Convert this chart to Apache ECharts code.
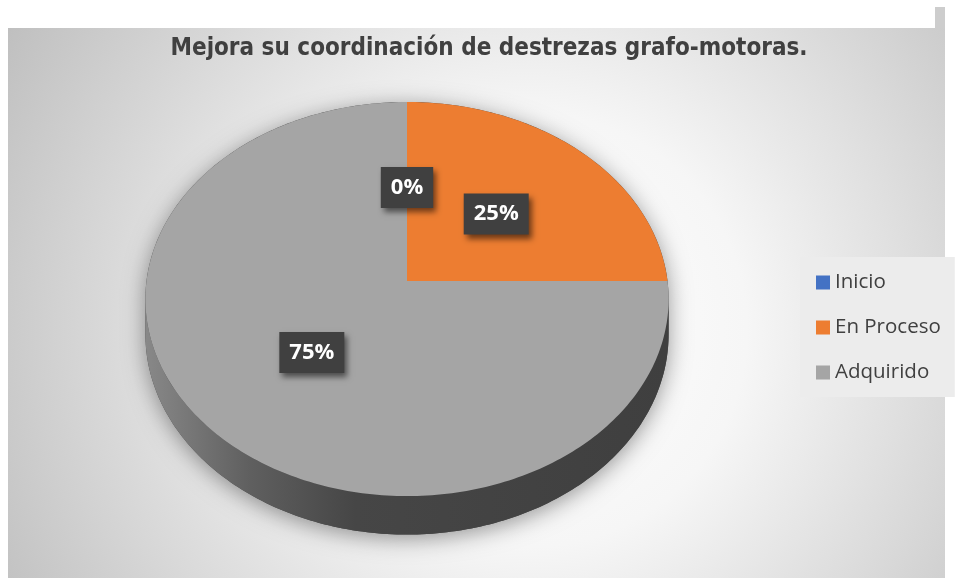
<!DOCTYPE html>
<html>
<head>
<meta charset="utf-8">
<script src="https://cdn.jsdelivr.net/npm/echarts@6/dist/echarts.min.js"></script>
<style>
  html, body { margin: 0; padding: 0; background: #fff; }
  #chart { width: 955px; height: 578px; }
</style>
</head>
<body>
<div id="chart"></div>
<script>
// datos del gráfico
var categories = ['Inicio', 'En Proceso', 'Adquirido'];
var values = [0, 25, 75];
var colors = ['#4472C4', '#ED7D31', '#A5A5A5'];
var titleText = 'Mejora su coordinación de destrezas grafo-motoras.';

var total = values.reduce(function (a, b) { return a + b; }, 0);

// pie 3D con perspectiva (centro, radio, profundidad)
var CX = 407, R = 260.5, A = 169.7, B = 281, C = -0.0914, D = 35;

function proj(theta, r, h) {
  var u = r * Math.sin(theta);
  var v = -r * Math.cos(theta);
  var w = 1 / (1 + C * v);
  return [CX + R * u * w, (A * v + B) * w + h * D * w];
}

function arc(a, b, r, h) {
  var pts = [];
  var n = Math.max(2, Math.ceil((b - a) / (Math.PI / 180)));
  for (var i = 0; i <= n; i++) pts.push(proj(a + (b - a) * i / n, r, h));
  return pts;
}

// ángulo de la silueta lateral (~95 grados)
var thetaS = Math.acos(C);

var wallFill = new echarts.graphic.LinearGradient(146, 0, 668, 0, [
  { offset: 0, color: '#888888' },
  { offset: 0.2, color: '#5f5f5f' },
  { offset: 0.4, color: '#464646' },
  { offset: 1, color: '#3f3f3f' }
], true);

function sliceRange(i) {
  var s = 0;
  for (var k = 0; k < i; k++) s += values[k];
  var a = s / total * Math.PI * 2;
  return [a, a + values[i] / total * Math.PI * 2];
}

function makeRender(i) {
  return function (params, api) {
    var val = api.value(0);
    var rg = sliceRange(i);
    var s = rg[0], e = rg[1];
    var children = [];
    if (val > 0) {
      // pared frontal
      var a = Math.max(s, thetaS), b = Math.min(e, Math.PI * 2 - thetaS);
      if (a < b) {
        var wall = arc(a, b, 1, 0).concat(arc(a, b, 1, 1).reverse());
        children.push({ type: 'polygon', z2: 1, shape: { points: wall }, style: { fill: wallFill } });
      }
      // cara superior
      var top = [proj(0, 0, 0)].concat(arc(s, e, 1, 0));
      children.push({ type: 'polygon', z2: 2, shape: { points: top }, style: { fill: colors[i] } });
    }
    var mid = (s + e) / 2;
    var p = proj(mid, 0.5, 0);
    children.push({
      type: 'text', z2: 10, x: p[0], y: p[1],
      style: {
        text: Math.round(val / total * 100) + '%',
        fill: '#ffffff',
        font: 'bold 22px "Open Sans"',
        align: 'center', verticalAlign: 'middle',
        lineHeight: 26,
        backgroundColor: '#404040',
        padding: [7, 10, 8, 10],
        shadowColor: 'rgba(0,0,0,0.55)',
        shadowBlur: 6,
        shadowOffsetX: 3,
        shadowOffsetY: 4
      }
    });
    return { type: 'group', children: children };
  };
}

var series = categories.map(function (name, i) {
  return {
    name: name,
    type: 'custom',
    coordinateSystem: 'none',
    silent: true,
    itemStyle: { color: colors[i] },
    data: [values[i]],
    renderItem: makeRender(i)
  };
});

// sombra del pie
series.unshift({
  name: 'sombra',
  type: 'custom',
  coordinateSystem: 'none',
  silent: true,
  data: [total],
  renderItem: function () {
    var pts = arc(Math.PI * 2 - thetaS, Math.PI * 2 + thetaS, 1, 0)
      .concat(arc(thetaS, Math.PI * 2 - thetaS, 1, 1));
    return {
      type: 'polygon', z2: 0, shape: { points: pts },
      style: { fill: '#444', shadowColor: 'rgba(0,0,0,0.4)', shadowBlur: 22, shadowOffsetY: 4 }
    };
  }
});

var chart = echarts.init(document.getElementById('chart'));
chart.setOption({
  animation: false,
  backgroundColor: '#ffffff',
  graphic: [
    {
      type: 'rect', z: -10, shape: { x: 8, y: 28, width: 937, height: 550 },
      style: {
        fill: new echarts.graphic.RadialGradient(530, 330, 620, [
          { offset: 0, color: '#ffffff' },
          { offset: 0.35, color: '#f6f6f6' },
          { offset: 1, color: '#bdbdbd' }
        ], true)
      }
    },
    { type: 'rect', z: -10, shape: { x: 935, y: 7, width: 10, height: 21 }, style: { fill: '#cdcdcd' } }
  ],
  title: {
    text: titleText,
    left: 489,
    top: 37,
    textAlign: 'center',
    padding: 0,
    textStyle: {
      fontFamily: '"DejaVu Sans Condensed", sans-serif',
      fontWeight: 'bold',
      fontSize: 24,
      color: '#404040'
    }
  },
  legend: {
    data: categories,
    orient: 'vertical',
    left: 800,
    top: 257,
    padding: [15, 14, 14, 16],
    itemWidth: 14,
    itemHeight: 14,
    itemGap: 24,
    icon: 'rect',
    selectedMode: false,
    backgroundColor: '#ececec',
    textStyle: { fontFamily: '"Open Sans"', fontSize: 20.5, color: '#404040', lineHeight: 20 }
  },
  series: series
});
</script>
</body>
</html>
